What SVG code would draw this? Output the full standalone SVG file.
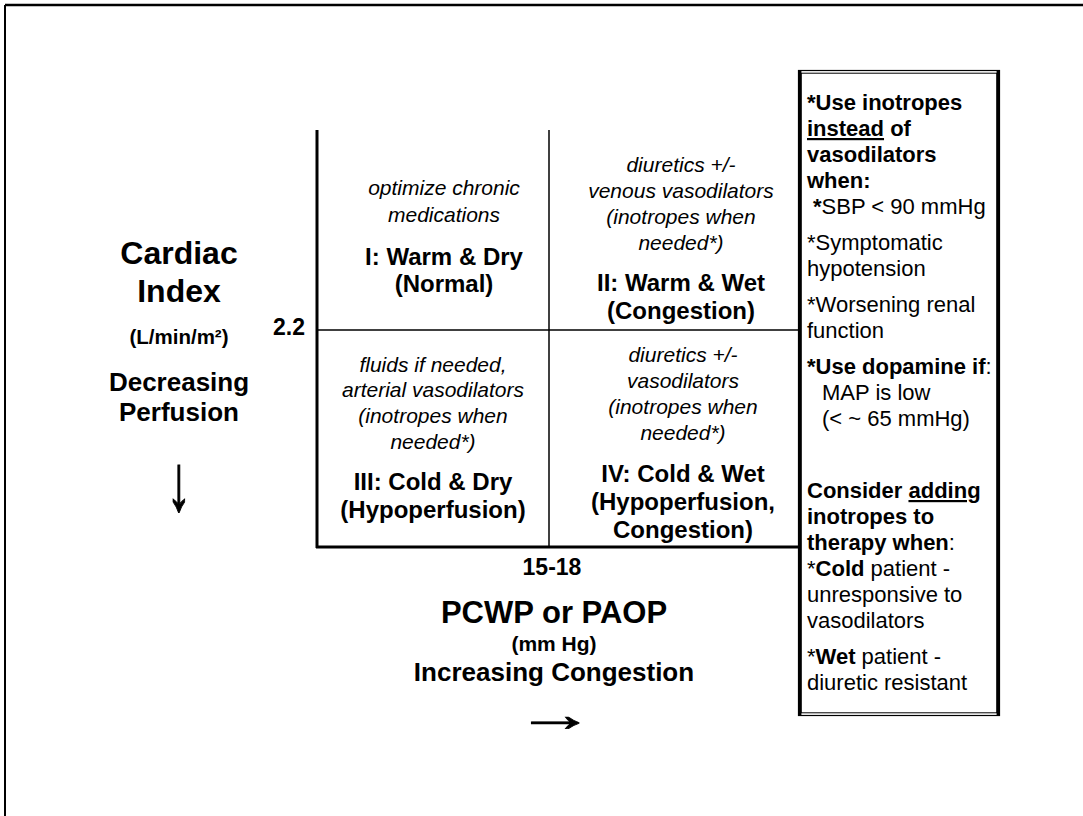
<svg xmlns="http://www.w3.org/2000/svg" width="1083" height="816" viewBox="0 0 1083 816">
<style>
  text { font-family: "Liberation Sans", Arial, sans-serif; fill: #000; }
  .it { font-style: italic; font-size: 21px; text-anchor: middle; }
  .lb { font-weight: bold; font-size: 24px; text-anchor: middle; }
  .bx { font-size: 22px; }
  .b { font-weight: bold; }
  .u { text-decoration: underline; }
  .ax { stroke: #000; fill: none; }
  .arr { font-family: "Liberation Serif", "Times New Roman", serif; font-size: 50px; text-anchor: middle; stroke: #000; stroke-width: 0.7; }
</style>
<rect width="1083" height="816" fill="#fff"/>
<g id="frame" class="ax">
  <line x1="5" y1="5" x2="1083" y2="5" stroke-width="2.5"/>
  <line x1="5" y1="5" x2="5" y2="816" stroke-width="2"/>
</g>
<g id="connectors" class="ax">
  <line x1="317" y1="130" x2="317" y2="548" stroke-width="3"/>
  <line x1="316" y1="547" x2="798" y2="547" stroke-width="3"/>
  <line x1="549" y1="130" x2="549" y2="547" stroke-width="1.5"/>
  <line x1="317" y1="330" x2="798" y2="330" stroke-width="1.5"/>
</g>
<g id="q1">
  <text class="it" x="444" y="195">optimize chronic</text>
  <text class="it" x="444" y="222">medications</text>
  <text class="lb" x="444" y="265">I: Warm &amp; Dry</text>
  <text class="lb" x="444" y="292">(Normal)</text>
</g>
<g id="q2">
  <text class="it" x="681" y="172">diuretics +/-</text>
  <text class="it" x="681" y="198">venous vasodilators</text>
  <text class="it" x="681" y="224">(inotropes when</text>
  <text class="it" x="681" y="250">needed*)</text>
  <text class="lb" x="681" y="291">II: Warm &amp; Wet</text>
  <text class="lb" x="681" y="319">(Congestion)</text>
</g>
<g id="q3">
  <text class="it" x="433" y="372">fluids if needed,</text>
  <text class="it" x="433" y="397">arterial vasodilators</text>
  <text class="it" x="433" y="423">(inotropes when</text>
  <text class="it" x="433" y="449">needed*)</text>
  <text class="lb" x="433" y="490">III: Cold &amp; Dry</text>
  <text class="lb" x="433" y="518">(Hypoperfusion)</text>
</g>
<g id="q4">
  <text class="it" x="683" y="362">diuretics +/-</text>
  <text class="it" x="683" y="388">vasodilators</text>
  <text class="it" x="683" y="414">(inotropes when</text>
  <text class="it" x="683" y="440">needed*)</text>
  <text class="lb" x="683" y="482">IV: Cold &amp; Wet</text>
  <text class="lb" x="683" y="510">(Hypoperfusion,</text>
  <text class="lb" x="683" y="538">Congestion)</text>
</g>
<g id="y-axis-label">
  <text class="b" x="179" y="264" font-size="32" text-anchor="middle">Cardiac</text>
  <text class="b" x="179" y="302" font-size="32" text-anchor="middle">Index</text>
  <text class="b" x="179" y="344" font-size="20.5" text-anchor="middle">(L/min/m²)</text>
  <text class="b" x="179" y="391" font-size="26" text-anchor="middle">Decreasing</text>
  <text class="b" x="179" y="421" font-size="26" text-anchor="middle">Perfusion</text>
  <text class="arr" transform="translate(179,510) scale(1,1.6)" x="0" y="0">↓</text>
  <text class="b" x="305" y="335" font-size="23" text-anchor="end">2.2</text>
</g>
<g id="x-axis-label">
  <text class="b" x="552" y="575" font-size="23" text-anchor="middle">15-18</text>
  <text class="b" x="554" y="623" font-size="31" text-anchor="middle">PCWP or PAOP</text>
  <text class="b" x="554" y="651" font-size="21" text-anchor="middle">(mm Hg)</text>
  <text class="b" x="554" y="681" font-size="26" text-anchor="middle">Increasing Congestion</text>
  <text class="arr" transform="translate(555,731) scale(1.6,1)" x="0" y="0">→</text>
</g>
<g id="notes-box">
  <rect x="798.5" y="70.5" width="201" height="645" fill="none" stroke="#000" stroke-width="1.2"/>
  <rect x="801.2" y="73.2" width="195.6" height="639.6" fill="none" stroke="#000" stroke-width="1"/>
  <line x1="799.8" y1="70" x2="799.8" y2="716" stroke="#000" stroke-width="3.2"/>
  <line x1="998.2" y1="70" x2="998.2" y2="716" stroke="#000" stroke-width="3.2"/>
  <text class="bx b" x="807" y="110">*Use inotropes</text>
  <text class="bx b" x="807" y="136"><tspan class="u">instead</tspan> of</text>
  <text class="bx b" x="807" y="162">vasodilators</text>
  <text class="bx b" x="807" y="188">when:</text>
  <text class="bx" x="813" y="214"><tspan class="b">*</tspan>SBP &lt; 90 mmHg</text>
  <text class="bx" x="807" y="250">*Symptomatic</text>
  <text class="bx" x="807" y="276">hypotension</text>
  <text class="bx" x="807" y="312">*Worsening renal</text>
  <text class="bx" x="807" y="338">function</text>
  <text class="bx" x="807" y="374"><tspan class="b">*Use dopamine if</tspan>:</text>
  <text class="bx" x="822" y="400">MAP is low</text>
  <text class="bx" x="822" y="426">(&lt; ~ 65 mmHg)</text>
  <text class="bx b" x="807" y="498">Consider <tspan class="u">adding</tspan></text>
  <text class="bx b" x="807" y="524">inotropes to</text>
  <text class="bx" x="807" y="550"><tspan class="b">therapy when</tspan>:</text>
  <text class="bx" x="807" y="576">*<tspan class="b">Cold</tspan> patient -</text>
  <text class="bx" x="807" y="602">unresponsive to</text>
  <text class="bx" x="807" y="628">vasodilators</text>
  <text class="bx" x="807" y="664">*<tspan class="b">Wet</tspan> patient -</text>
  <text class="bx" x="807" y="690">diuretic resistant</text>
</g>
</svg>
